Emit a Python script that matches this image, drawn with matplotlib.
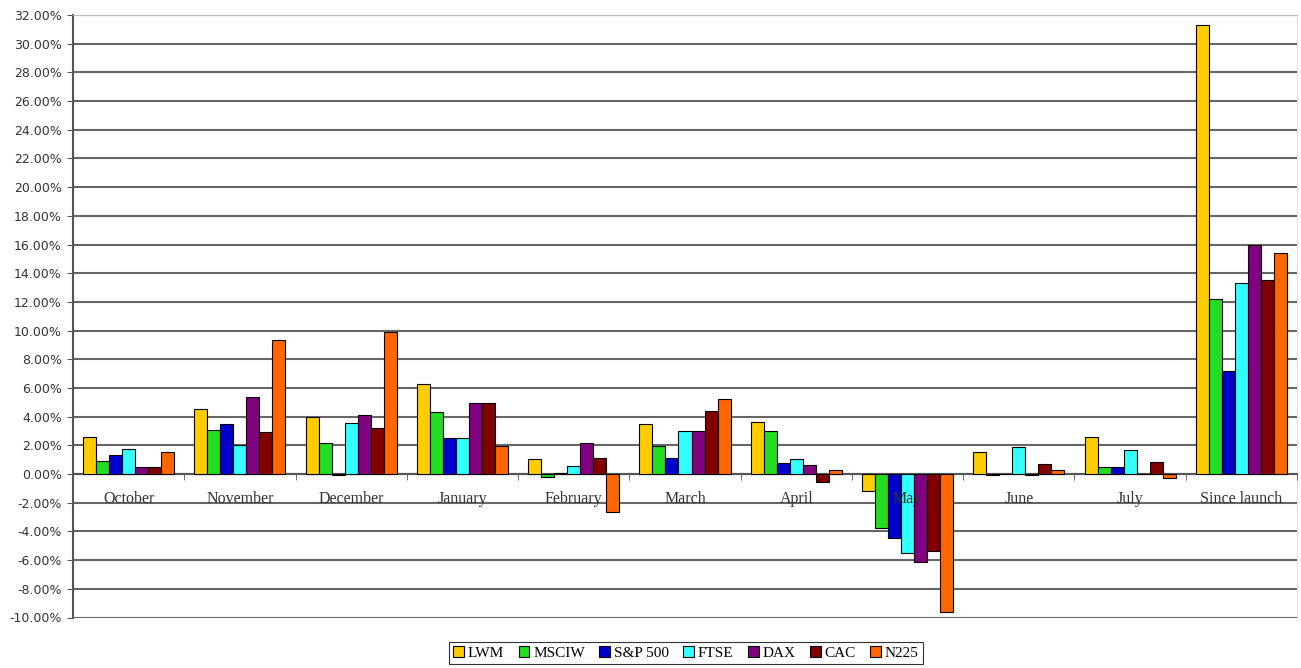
import numpy as np
import matplotlib.pyplot as plt
from matplotlib.ticker import FuncFormatter, MultipleLocator

months = ['October', 'November', 'December', 'January', 'February', 'March',
          'April', 'May', 'June', 'July', 'Since launch']
series = ['LWM', 'MSCIW', 'S&P 500', 'FTSE', 'DAX', 'CAC', 'N225']

lwm   = [2.58, 4.50, 3.95, 6.27, 1.06, 3.52, 3.62, -1.16, 1.55, 2.56, 31.30]
msciw = [0.93, 3.10, 2.15, 4.34, -0.20, 1.94, 2.99, -3.73, -0.10, 0.50, 12.17]
sp500 = [1.32, 3.50, -0.05, 2.53, 0.08, 1.13, 0.78, -4.48, 0.00, 0.50, 7.20]
ftse  = [1.74, 2.00, 3.58, 2.53, 0.55, 3.03, 1.06, -5.53, 1.90, 1.67, 13.33]
dax   = [0.50, 5.35, 4.15, 4.93, 2.17, 3.03, 0.66, -6.15, -0.10, 0.00, 15.96]
cac   = [0.50, 2.90, 3.23, 4.93, 1.13, 4.37, -0.57, -5.38, 0.73, 0.86, 13.52]
n225  = [1.55, 9.34, 9.90, 1.95, -2.66, 5.24, 0.31, -9.64, 0.26, -0.25, 15.38]

values = [lwm, msciw, sp500, ftse, dax, cac, n225]
colors = ['#FFCC00', '#22DD22', '#0000CC', '#33FFFF', '#800080', '#800000', '#FF6600']

fig = plt.figure(figsize=(13.01, 6.68), dpi=100)
ax = fig.add_axes([73 / 1301, (668 - 617.5) / 668, (1297 - 73) / 1301, (617.5 - 15) / 668])

x = np.arange(len(months))
width = 0.117
for i, (vals, col, name) in enumerate(zip(values, colors, series)):
    ax.bar(x + (i - 3) * width, vals, width, color=col, edgecolor='black',
           linewidth=0.8, label=name, zorder=3)

ax.set_xlim(-0.5, len(months) - 0.5)
ax.set_ylim(-10, 32)
ax.yaxis.set_major_locator(MultipleLocator(2))
ax.yaxis.set_major_formatter(FuncFormatter(lambda v, p: '%.2f%%' % v))
ax.yaxis.grid(True, color='#666666', linewidth=1.5, zorder=0)
ax.tick_params(axis='y', labelsize=9, length=4, color='#555555', labelcolor='#333333', pad=4)

# category axis sits on the zero line, Excel style; labels drawn over the bars
ax.spines['bottom'].set_position(('data', 0))
ax.spines['bottom'].set_color('#555555')
ax.spines['bottom'].set_linewidth(1.5)
ax.xaxis.set_zorder(4)
ax.set_xticks(x)
ax.set_xticklabels(months, family='Liberation Serif', fontsize=11.5, color='#333333')
ax.tick_params(axis='x', which='major', length=0, pad=12)
ax.set_xticks(np.arange(len(months) + 1) - 0.5, minor=True)
ax.tick_params(axis='x', which='minor', length=4, color='#555555')

ax.spines['left'].set_color('#555555')
ax.spines['left'].set_linewidth(1.5)
ax.spines['top'].set_color('#BBBBBB')
ax.spines['right'].set_color('#DDDDDD')

leg = fig.legend(loc='center', bbox_to_anchor=(686 / 1301, (668 - 653) / 668), ncol=7,
                 prop={'family': 'Liberation Serif', 'size': 11}, frameon=True, fancybox=False,
                 edgecolor='black', handlelength=0.7, handleheight=0.7, handletextpad=0.25,
                 columnspacing=0.95, borderpad=0.25)
leg.get_frame().set_linewidth(0.8)

fig.savefig('out.png', dpi=100)
